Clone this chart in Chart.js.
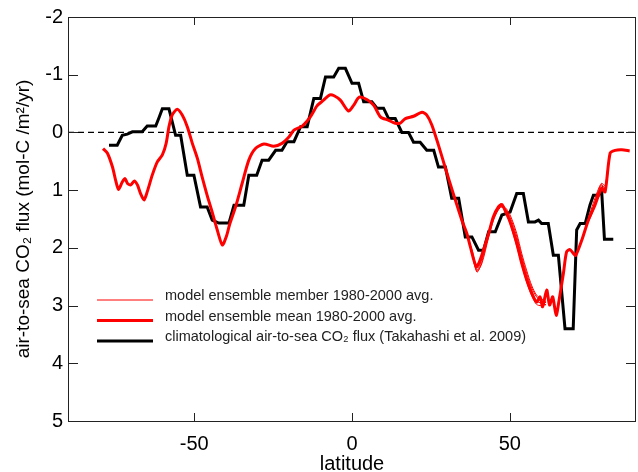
<!DOCTYPE html>
<html>
<head>
<meta charset="utf-8">
<script src="https://cdn.jsdelivr.net/npm/chart.js@4.4.0/dist/chart.umd.min.js"></script>
<style>
  body { margin: 0; background: #fff; }
  #wrap { width: 638px; height: 472px; }
</style>
</head>
<body>
<div id="wrap"><canvas id="myChart" width="638" height="472"></canvas></div>
<script>
// climatological flux (Takahashi) - step like curve
const obsLat = [-77.0,-74.4,-72.8,-71.2,-69.6,-66.5,-64.9,-62.2,-61.2,-60.1,-58.0,-55.9,-54.3,-52.2,-50.1,-48.0,-45.9,-44.3,-42.2,-39.0,-37.4,-34.3,-32.7,-30.2,-28.5,-26.4,-24.2,-22.2,-20.6,-18.4,-16.3,-14.2,-12.1,-10.0,-8.4,-5.8,-4.2,-2.1,0.0,2.1,3.7,6.3,7.9,10.0,11.6,13.7,15.8,17.9,19.5,21.6,23.7,25.9,27.4,29.6,31.6,33.8,35.9,38.0,40.1,41.7,43.3,45.4,47.5,50.1,52.2,54.3,55.9,58.0,59.1,60.1,62.2,63.8,65.4,67.5,70.1,71.2,72.3,73.9,75.4,76.5,78.1,79.1,80.0,82.8]
const obsFlux = [0.22,0.22,0.05,0.03,-0.01,-0.01,-0.11,-0.11,-0.25,-0.41,-0.41,0.05,0.05,0.74,0.74,1.29,1.29,1.52,1.57,1.57,1.26,1.26,0.74,0.74,0.48,0.48,0.31,0.31,0.16,0.16,-0.10,-0.10,-0.59,-0.59,-0.96,-0.96,-1.11,-1.11,-0.85,-0.85,-0.53,-0.53,-0.42,-0.42,-0.24,-0.24,0.00,0.00,0.17,0.17,0.31,0.31,0.60,0.60,1.14,1.14,1.81,1.81,2.04,2.04,1.72,1.72,1.43,1.38,1.06,1.06,1.55,1.55,1.52,1.58,1.58,2.13,2.13,3.40,3.40,1.69,1.58,1.58,1.26,1.09,1.09,1.00,1.85,1.85]

// model ensemble mean
const meanLat = [-78.9,-77.5,-75.9,-74.9,-74.0,-72.8,-71.9,-71.2,-70.1,-69.0,-68.0,-67.0,-65.9,-64.9,-63.3,-61.7,-60.1,-58.9,-58.0,-57.0,-55.4,-53.8,-52.2,-50.6,-49.0,-47.5,-45.9,-44.3,-42.7,-41.1,-39.8,-38.8,-36.9,-34.8,-32.7,-30.6,-27.9,-24.8,-22.2,-20.0,-18.4,-15.8,-13.2,-11.1,-9.0,-7.0,-5.8,-3.7,-1.1,0.5,2.3,4.7,6.9,9.0,11.6,13.7,15.3,16.9,19.5,22.2,23.7,25.3,27.4,29.6,32.1,34.8,36.4,37.5,39.4,40.6,43.3,44.8,46.4,47.5,48.5,50.1,52.2,53.8,55.4,57.0,58.5,59.6,60.4,61.7,62.6,63.6,64.7,65.7,67.0,68.0,69.1,70.2,70.9,72.8,74.9,77.0,79.1,80.2,81.8,83.4,85.5,88.0]
const meanFlux = [0.28,0.36,0.60,0.83,0.99,0.86,0.80,0.88,0.91,0.84,0.91,1.06,1.17,1.03,0.74,0.51,0.39,0.19,-0.10,-0.30,-0.40,-0.30,-0.10,0.19,0.45,0.77,1.09,1.38,1.69,1.95,1.80,1.60,1.29,0.88,0.48,0.28,0.20,0.24,0.19,0.08,-0.04,-0.11,-0.27,-0.46,-0.56,-0.65,-0.64,-0.56,-0.37,-0.47,-0.61,-0.57,-0.47,-0.27,-0.21,-0.16,-0.16,-0.24,-0.28,-0.35,-0.30,-0.13,0.22,0.62,1.06,1.52,1.75,1.98,2.33,2.21,1.75,1.46,1.29,1.25,1.35,1.55,1.92,2.27,2.56,2.79,2.94,2.85,3.02,2.73,2.99,2.85,3.17,2.88,2.44,2.07,2.03,2.10,2.13,1.87,1.52,1.26,0.97,1.03,0.36,0.31,0.30,0.32]

// ensemble members (only where they show out from under the mean, null = gap)
const memberLat = [36.4,38.0,39.6,41.1,43.3,45.0,47.0,48.5,50.1,52.2,53.8,55.4,57.0,58.5,60.0,61.5,70.0,74.9,76.5,77.8,79.1,80.2,81.2]
const member1 = [1.72,2.08,2.42,2.25,1.78,1.47,1.28,1.32,1.47,1.80,2.15,2.45,2.70,2.85,2.92,2.95,null,1.50,1.30,1.05,0.90,0.98,0.62]
const member2 = [1.76,2.10,2.40,2.28,1.82,1.50,1.30,1.30,1.43,1.75,2.10,2.40,2.66,2.82,2.88,2.93,null,1.55,1.35,1.10,0.95,1.00,0.65]
const member3 = [1.78,2.03,2.33,2.18,1.72,1.43,1.24,1.36,1.58,1.97,2.30,2.60,2.84,2.98,3.00,2.98,null,1.48,1.22,1.02,0.88,0.92,0.55]
const member4 = [1.74,2.06,2.38,2.20,1.76,1.46,1.29,1.34,1.52,1.86,2.20,2.50,2.75,2.92,2.96,2.99,null,1.52,1.28,1.08,0.92,0.96,0.60]
const members = [member1, member2, member3, member4]

const xTicks = [-50, 0, 50]
const yTicks = [-2, -1, 0, 1, 2, 3, 4, 5]
const legendNames = ["model ensemble member 1980-2000 avg.", "model ensemble mean 1980-2000 avg.", "climatological air-to-sea CO\u2082 flux (Takahashi et al. 2009)"]

const red = "#ff0000"
const fontFam = "Arial, 'Liberation Sans', Helvetica, sans-serif"

function toPoints(xs, ys){
    let pts = []
    for (let i = 0; i < xs.length; i++){
        pts.push({x: xs[i], y: ys[i]})
    }
    return pts
}

let datasets = []
datasets.push({label: legendNames[1], data: toPoints(meanLat, meanFlux), borderColor: red, borderWidth: 3, tension: 0.25})
for (let m = 0; m < members.length; m++){
    datasets.push({label: legendNames[0], data: toPoints(memberLat, members[m]), borderColor: red, borderWidth: 1, tension: 0.3, spanGaps: false})
}
datasets.push({label: legendNames[2], data: toPoints(obsLat, obsFlux), borderColor: "#000", borderWidth: 3, tension: 0})

// dashed zero line, frame and inward ticks
const framePlugin = {
    id: "frame",
    beforeDatasetsDraw(chart){
        const ctx = chart.ctx, a = chart.chartArea
        const y0 = chart.scales.y.getPixelForValue(0)
        ctx.save()
        ctx.strokeStyle = "#000"
        ctx.lineWidth = 1.2
        ctx.setLineDash([6, 4])
        ctx.beginPath()
        ctx.moveTo(a.left, y0)
        ctx.lineTo(a.right, y0)
        ctx.stroke()
        ctx.restore()
    },
    afterDraw(chart){
        const ctx = chart.ctx, a = chart.chartArea
        ctx.save()
        ctx.strokeStyle = "#222"
        ctx.lineWidth = 1
        ctx.strokeRect(a.left + 0.5, a.top + 0.5, a.right - a.left - 1, a.bottom - a.top)
        ctx.beginPath()
        for (const v of yTicks){
            const py = Math.round(chart.scales.y.getPixelForValue(v)) + 0.5
            ctx.moveTo(a.left, py); ctx.lineTo(a.left + 10, py)
            ctx.moveTo(a.right, py); ctx.lineTo(a.right - 10, py)
        }
        for (const v of xTicks){
            const px = Math.round(chart.scales.x.getPixelForValue(v)) + 0.5
            ctx.moveTo(px, a.bottom); ctx.lineTo(px, a.bottom - 8)
            ctx.moveTo(px, a.top); ctx.lineTo(px, a.top + 8)
        }
        ctx.stroke()

        // legend inside the plot
        const sampleW = [1, 3, 3]
        const sampleC = [red, red, "#000"]
        ctx.font = "14.5px " + fontFam
        ctx.textBaseline = "middle"
        ctx.fillStyle = "#222"
        for (let i = 0; i < legendNames.length; i++){
            const ly = a.top + 283 + i * 20.5
            ctx.beginPath()
            ctx.lineWidth = sampleW[i]
            ctx.strokeStyle = sampleC[i]
            ctx.moveTo(a.left + 29, ly)
            ctx.lineTo(a.left + 85, ly)
            ctx.stroke()
            ctx.fillText(legendNames[i], a.left + 97, ly - 4)
        }
        ctx.restore()
    }
}

new Chart("myChart", {
    type: "line",
    data: { datasets: datasets },
    options: {
        responsive: false,
        animation: false,
        devicePixelRatio: 1,
        layout: { padding: { top: 17, right: 2, left: 0, bottom: 0 } },
        elements: { point: { radius: 0 } },
        plugins: { legend: { display: false }, tooltip: { enabled: false } },
        scales: {
            x: {
                type: "linear",
                min: -90,
                max: 90,
                afterBuildTicks: (s) => { s.ticks = xTicks.map(v => ({value: v})) },
                afterFit: (s) => { s.height = 51 },
                grid: { display: false, drawTicks: false },
                border: { display: false },
                ticks: { color: "#000", padding: 11, font: { family: fontFam, size: 20 }, maxRotation: 0 },
                title: { display: true, text: "latitude", color: "#000", font: { family: fontFam, size: 20, lineHeight: 1 }, padding: { top: 0, bottom: -2 } }
            },
            y: {
                type: "linear",
                reverse: true,
                min: -2,
                max: 5,
                afterBuildTicks: (s) => { s.ticks = yTicks.map(v => ({value: v})) },
                afterFit: (s) => { s.width = 68 },
                grid: { display: false, drawTicks: false },
                border: { display: false },
                ticks: { color: "#000", padding: 5, font: { family: fontFam, size: 20 } },
                title: { display: true, text: "air-to-sea CO\u2082 flux (mol-C /m\u00b2/yr)", color: "#000", font: { family: fontFam, size: 19 }, padding: { top: 12, bottom: 0 } }
            }
        }
    },
    plugins: [framePlugin]
})
</script>
</body>
</html>
